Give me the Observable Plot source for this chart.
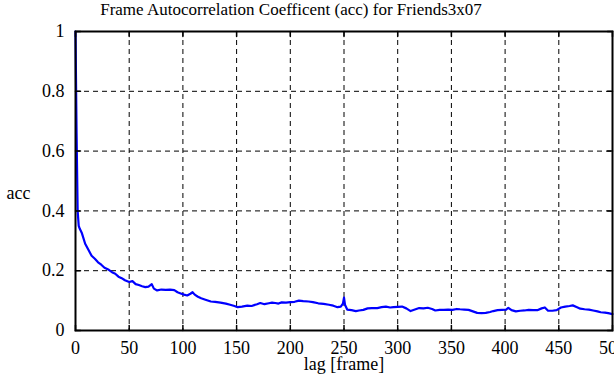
<!DOCTYPE html>
<html>
<head>
<meta charset="utf-8">
<script src="https://cdn.jsdelivr.net/npm/d3@7"></script>
<script src="https://cdn.jsdelivr.net/npm/@observablehq/plot@0.6"></script>
<style>
  html, body { margin: 0; padding: 0; background: #fff; }
</style>
</head>
<body>
<div id="chart"></div>
<script>
const titleText = "Frame Autocorrelation Coefficent (acc) for Friends3x07";
const xLabel = "lag [frame]";
const yLabel = "acc";
const xTicks = [0, 50, 100, 150, 200, 250, 300, 350, 400, 450, 500];
const yTicks = [0, 0.2, 0.4, 0.6, 0.8, 1];

const lags = [0,1,2,3,4,6,9,12,15,18,21,24,27,31,34,37,40,43,46,50,53,56,59,62,65,68,71,73,76,80,84,88,92,95,98,101,104,107,109,111,114,117,121,126,130,135,140,144,148,151,155,160,164,169,172,176,180,183,186,189,192,196,200,204,208,212,217,221,226,231,236,240,244,247,249,250,251,253,257,261,264,268,272,276,281,285,289,293,296,300,304,308,312,316,320,324,328,332,335,339,343,347,351,355,358,362,366,370,374,378,382,386,389,393,397,401,403,406,410,414,418,422,426,430,434,437,440,444,448,452,456,460,463,467,470,474,478,482,486,489,493,496,500];
const acc = [1.0,0.66,0.40,0.35,0.34,0.325,0.29,0.27,0.25,0.24,0.228,0.22,0.21,0.203,0.195,0.19,0.18,0.175,0.168,0.162,0.165,0.155,0.152,0.148,0.145,0.147,0.155,0.14,0.134,0.137,0.136,0.137,0.135,0.128,0.124,0.12,0.117,0.123,0.128,0.12,0.113,0.108,0.103,0.097,0.096,0.093,0.09,0.086,0.082,0.078,0.08,0.083,0.082,0.088,0.092,0.088,0.091,0.093,0.092,0.09,0.094,0.093,0.095,0.096,0.1,0.098,0.097,0.095,0.091,0.089,0.086,0.083,0.078,0.08,0.09,0.11,0.085,0.07,0.068,0.065,0.067,0.069,0.074,0.075,0.075,0.078,0.08,0.077,0.078,0.079,0.08,0.074,0.065,0.07,0.075,0.074,0.076,0.072,0.067,0.069,0.069,0.07,0.069,0.072,0.071,0.07,0.069,0.064,0.059,0.058,0.059,0.062,0.065,0.068,0.069,0.07,0.076,0.068,0.064,0.066,0.067,0.069,0.068,0.068,0.074,0.077,0.066,0.066,0.068,0.077,0.08,0.082,0.084,0.078,0.073,0.071,0.07,0.067,0.064,0.061,0.06,0.058,0.055];

const data = lags.map((l, i) => ({lag: l, acc: acc[i]}));

const tickShape = {draw(ctx, l) { ctx.moveTo(0, 0); ctx.lineTo(0, -l); }};

const chart = Plot.plot({
  width: 614,
  height: 385,
  marginLeft: 75,
  marginRight: 2,
  marginTop: 31,
  marginBottom: 55,
  style: {fontFamily: "'Liberation Serif', serif", fontSize: "18px", color: "#000", background: "#fff"},
  x: {domain: [0, 500]},
  y: {domain: [0, 1]},
  marks: [
    Plot.gridX(xTicks.slice(1, -1), {stroke: "#000", strokeOpacity: 1, strokeDasharray: "5,4"}),
    Plot.gridY(yTicks.slice(1, -1), {stroke: "#000", strokeOpacity: 1, strokeDasharray: "5,4"}),
    Plot.line(data, {x: "lag", y: "acc", stroke: "#0000ff", strokeWidth: 2.2}),
    Plot.frame({stroke: "#000", strokeWidth: 2}),
    Plot.vector(xTicks, {x: d => d, frameAnchor: "bottom", length: 5, rotate: 0, anchor: "start", shape: tickShape, stroke: "#000", strokeWidth: 1.5}),
    Plot.vector(xTicks, {x: d => d, frameAnchor: "top", length: 5, rotate: 180, anchor: "start", shape: tickShape, stroke: "#000", strokeWidth: 1.5}),
    Plot.vector(yTicks, {y: d => d, frameAnchor: "left", length: 5, rotate: 90, anchor: "start", shape: tickShape, stroke: "#000", strokeWidth: 1.5}),
    Plot.vector(yTicks, {y: d => d, frameAnchor: "right", length: 5, rotate: -90, anchor: "start", shape: tickShape, stroke: "#000", strokeWidth: 1.5}),
    Plot.axisX(xTicks, {tickSize: 0, tickPadding: 11, label: null, fontSize: 18, tickFormat: d => String(d)}),
    Plot.axisY(yTicks, {tickSize: 0, tickPadding: 11, label: null, fontSize: 18, tickFormat: d => String(d)}),
    Plot.text([titleText], {frameAnchor: "top", lineAnchor: "middle", textAnchor: "middle", dy: -22, dx: -53, fontSize: 17, text: d => d}),
    Plot.text([xLabel], {frameAnchor: "bottom", lineAnchor: "middle", textAnchor: "middle", dy: 34, fontSize: 18, text: d => d}),
    Plot.text([yLabel], {frameAnchor: "left", lineAnchor: "middle", textAnchor: "middle", dx: -57, dy: 12, fontSize: 18, text: d => d})
  ]
});
document.getElementById("chart").appendChild(chart);
</script>
</body>
</html>
